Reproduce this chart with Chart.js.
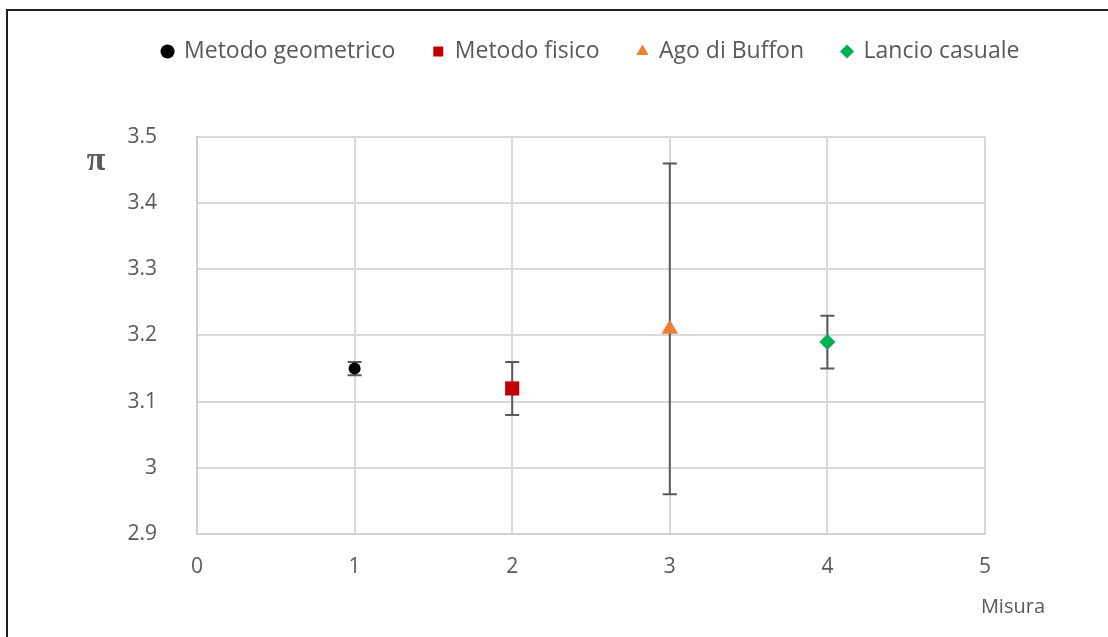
<!DOCTYPE html>
<html>
<head>
<meta charset="utf-8">
<script src="https://cdn.jsdelivr.net/npm/chart.js@4.4.1/dist/chart.umd.min.js"></script>
<style>
  html, body { margin: 0; padding: 0; background: #fff; }
  #wrap { position: relative; width: 1108px; height: 637px; }
  #frame {
    position: absolute; left: 6px; top: 9px; right: 0; bottom: 0;
    border-top: 2px solid #1e1e1e; border-left: 2px solid #1e1e1e;
    pointer-events: none;
  }
</style>
</head>
<body>
<div id="wrap">
  <canvas id="piChart" width="1108" height="637"></canvas>
  <div id="frame"></div>
</div>
<script>
// one point per method, with its uncertainty
const methods = ['Metodo geometrico', 'Metodo fisico', 'Ago di Buffon', 'Lancio casuale'];
const misura = [1, 2, 3, 4];
const piValues = [3.15, 3.12, 3.21, 3.19];
const piErrors = [0.01, 0.04, 0.25, 0.04];
const colors = ['#000000', '#c00000', '#ed7d31', '#00b050'];
const styles = ['circle', 'rect', 'triangle', 'rectRot'];
const radii = [6, 10, 9.5, 8];

const xTicks = [0, 1, 2, 3, 4, 5];
const yTicks = [2.9, 3, 3.1, 3.2, 3.3, 3.4, 3.5];

const FONT = "'Open Sans', 'Noto Sans', sans-serif";
const TEXT = '#595959';

const datasets = methods.map((name, i) => ({
  label: name,
  data: [{ x: misura[i], y: piValues[i] }],
  pointStyle: styles[i],
  pointRadius: radii[i],
  pointHoverRadius: radii[i],
  backgroundColor: colors[i],
  borderColor: colors[i],
  borderWidth: 0
}));

// error bars drawn through the scales
const errorBars = {
  id: 'errorBars',
  beforeDatasetsDraw(chart) {
    const { ctx, scales: { x, y } } = chart;
    ctx.save();
    ctx.strokeStyle = '#595959';
    ctx.lineWidth = 2;
    misura.forEach((m, i) => {
      const px = x.getPixelForValue(m);
      const top = y.getPixelForValue(piValues[i] + piErrors[i]);
      const bot = y.getPixelForValue(piValues[i] - piErrors[i]);
      ctx.beginPath();
      ctx.moveTo(px, top); ctx.lineTo(px, bot);
      ctx.moveTo(px - 7, top); ctx.lineTo(px + 7, top);
      ctx.moveTo(px - 7, bot); ctx.lineTo(px + 7, bot);
      ctx.stroke();
    });
    ctx.restore();
  }
};

// axis names placed like in the original sheet
const axisNames = {
  id: 'axisNames',
  afterDraw(chart) {
    const { ctx, chartArea } = chart;
    ctx.save();
    ctx.fillStyle = TEXT;
    ctx.textBaseline = 'middle';
    ctx.textAlign = 'center';
    ctx.font = "bold 34px 'Liberation Serif', serif";
    ctx.fillText('π', chartArea.left - 101, chartArea.top + 24);
    ctx.textAlign = 'right';
    ctx.font = '20px ' + FONT;
    ctx.fillText('Misura', chartArea.right + 60, chartArea.bottom + 73);
    ctx.restore();
  }
};

// legend takes more room above the plot
const legendRoom = {
  id: 'legendRoom',
  beforeInit(chart) {
    const fit = chart.legend.fit;
    chart.legend.fit = function () {
      fit.bind(chart.legend)();
      this.height = 135;
    };
  }
};

new Chart(document.getElementById('piChart'), {
  type: 'scatter',
  data: { datasets },
  plugins: [errorBars, axisNames, legendRoom],
  options: {
    responsive: false,
    animation: false,
    layout: { padding: { left: 74, right: 0, top: 2, bottom: 0 } },
    plugins: {
      tooltip: { enabled: false },
      legend: {
        position: 'top',
        labels: {
          usePointStyle: true,
          boxWidth: 10,
          boxHeight: 10,
          padding: 38,
          color: TEXT,
          font: { family: FONT, size: 23 }
        }
      }
    },
    scales: {
      x: {
        type: 'linear',
        min: 0,
        max: 5,
        afterBuildTicks(scale) { scale.ticks = xTicks.map(v => ({ value: v })); },
        afterFit(scale) { scale.height = 103; },
        grid: { color: '#d9d9d9', lineWidth: 2, drawTicks: false },
        border: { color: '#d0d0d0', width: 2 },
        ticks: { color: TEXT, padding: 20, font: { family: FONT, size: 21 } }
      },
      y: {
        type: 'linear',
        min: 2.9,
        max: 3.5,
        afterBuildTicks(scale) { scale.ticks = yTicks.map(v => ({ value: v })); },
        afterFit(scale) { scale.width = 123; },
        grid: { color: '#d9d9d9', lineWidth: 2, drawTicks: false },
        border: { color: '#d0d0d0', width: 2 },
        ticks: {
          color: TEXT,
          padding: 40,
          font: { family: FONT, size: 21 },
          callback: v => String(Math.round(v * 10) / 10)
        }
      },
      spacer: {
        type: 'linear',
        position: 'right',
        display: true,
        afterFit(scale) { scale.width = 123; },
        grid: { display: false },
        border: { display: false },
        ticks: { display: false }
      }
    }
  }
});
</script>
</body>
</html>
